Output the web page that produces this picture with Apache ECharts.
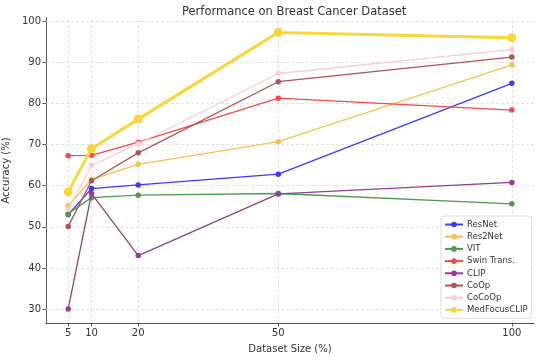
<!DOCTYPE html>
<html><head><meta charset="utf-8">
<script src="https://cdn.jsdelivr.net/npm/echarts@6/dist/echarts.min.js"></script>
<style>html,body{margin:0;padding:0;background:#fff}#c{width:552px;height:360px}</style>
</head><body><div id="c"></div>
<script>
const xValues = [5, 10, 20, 50, 100];
const resnet   = [53.0, 59.3, 60.2, 62.8, 84.9];
const res2net  = [55.1, 61.5, 65.2, 70.7, 89.4];
const vit      = [53.2, 57.1, 57.7, 58.1, 55.6];
const swin     = [67.3, 67.4, 70.6, 81.3, 78.4];
const clip     = [30.0, 58.1, 43.0, 58.0, 60.8];
const coop     = [50.1, 61.2, 68.0, 85.3, 91.3];
const cocoop   = [54.3, 64.9, 70.2, 87.3, 93.1];
const medfocus = [58.5, 69.0, 76.2, 97.3, 96.0];
const xTicks = [5, 10, 20, 50, 100];
const yTicks = [30, 40, 50, 60, 70, 80, 90, 100];
const names = ['ResNet','Res2Net','VIT','Swin Trans.','CLIP','CoOp','CoCoOp','MedFocusCLIP'];
const values = [resnet, res2net, vit, swin, clip, coop, cocoop, medfocus];
const colors = ['#3b3bff','#fbbf4f','#4d9c4d','#f24a4a','#933d93','#ab5555','#fbcdd5','#f9d73a'];

const font = 'DejaVu Sans';
const series = names.map((n, i) => {
  const big = n === 'MedFocusCLIP';
  return {
    name: n, type: 'line', z: 3 + i,
    data: xValues.map((x, j) => [x, values[i][j]]),
    symbol: 'circle', symbolSize: big ? 9 : 5.5,
    itemStyle: { color: colors[i] },
    lineStyle: { color: colors[i], width: big ? 3 : 1.3 },
    emphasis: { disabled: true }, animation: false
  };
});
series.unshift({
  name: 'grid', type: 'line', z: 1, data: [[5, 30]], symbol: 'none',
  lineStyle: { opacity: 0 }, silent: true, animation: false,
  markLine: {
    silent: true, symbol: 'none', label: { show: false }, animation: false, z: 1,
    lineStyle: { color: '#dcdcdc', type: [3, 2], width: 0.8 },
    data: xTicks.map(v => ({ xAxis: v })).concat(yTicks.map(v => ({ yAxis: v })))
  }
});

const chart = echarts.init(document.getElementById('c'), null, { renderer: 'canvas' });
chart.setOption({
  animation: false,
  backgroundColor: '#fff',
  title: {
    text: 'Performance on Breast Cancer Dataset', left: 177, top: 1,
    textStyle: { fontFamily: font, fontSize: 11.5, fontWeight: 'normal', color: '#333' }
  },
  grid: { left: 46, right: 18, top: 18, bottom: 37, outerBoundsMode: 'none', containLabel: false },
  legend: {
    data: names, orient: 'vertical', left: 441, top: 216,
    itemWidth: 18, itemHeight: 7, itemGap: 3.2,
    padding: [4, 4, 4, 3],
    backgroundColor: '#fff', borderColor: '#dddddd', borderWidth: 1, borderRadius: 3,
    textStyle: { fontFamily: font, fontSize: 8.5, color: '#333', padding: [0, 0, 0, -1] }
  },
  xAxis: {
    type: 'value', min: 0.25, max: 104.75,
    name: 'Dataset Size (%)', nameLocation: 'middle', nameGap: 21,
    nameTextStyle: { fontFamily: font, fontSize: 10, color: '#333' },
    axisLine: { lineStyle: { color: '#555', width: 1 } },
    axisTick: { show: true, customValues: xTicks, length: 3.5, lineStyle: { color: '#555' } },
    axisLabel: { customValues: xTicks, fontFamily: font, fontSize: 10, color: '#333', margin: 5 },
    splitLine: { show: false }
  },
  yAxis: {
    type: 'value', min: 26.6, max: 100.8,
    name: 'Accuracy (%)', nameLocation: 'middle', nameGap: 27, nameRotate: 90,
    nameTextStyle: { fontFamily: font, fontSize: 10, color: '#333' },
    axisLine: { show: true, lineStyle: { color: '#555', width: 1 } },
    axisTick: { show: true, customValues: yTicks, length: 3.5, lineStyle: { color: '#555' } },
    axisLabel: { customValues: yTicks, fontFamily: font, fontSize: 10, color: '#333', margin: 5 },
    splitLine: { show: false }
  },
  series: series
});
</script></body></html>
